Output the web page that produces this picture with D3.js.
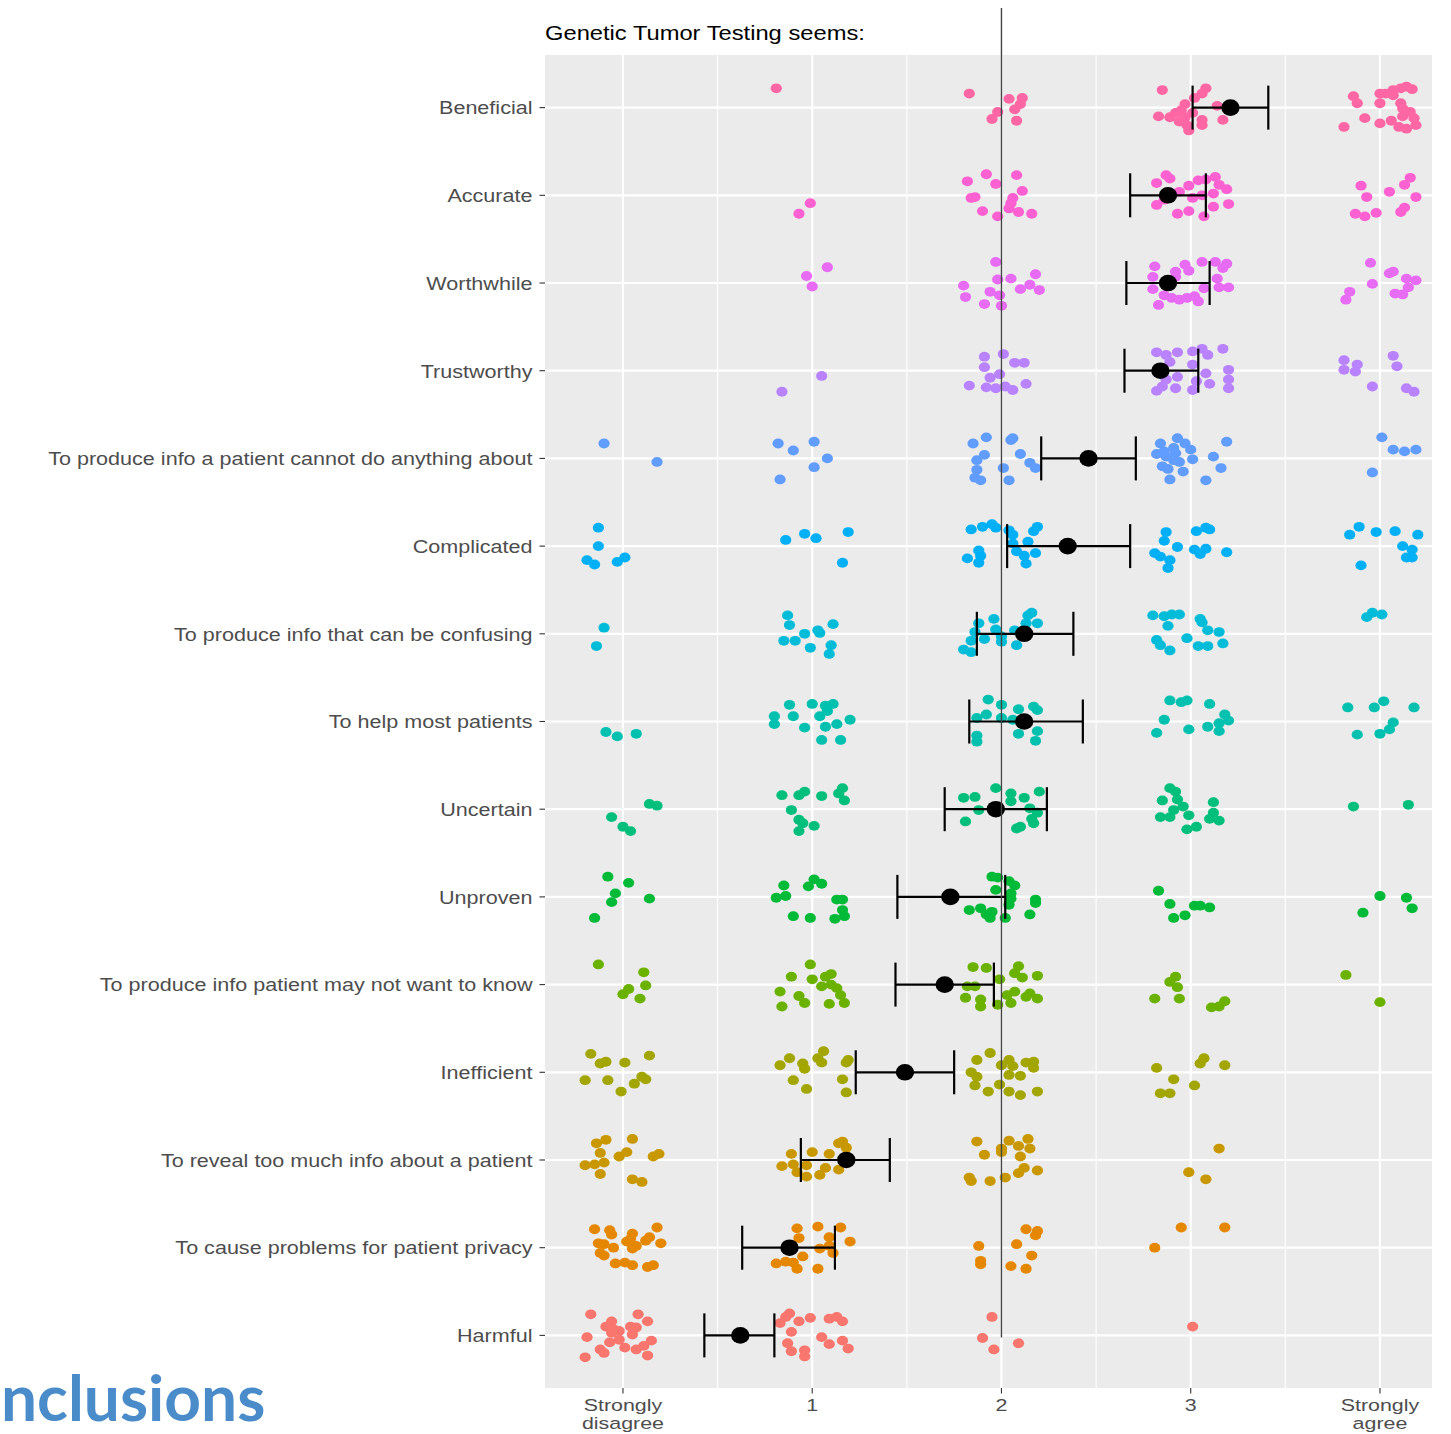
<!DOCTYPE html>
<html><head><meta charset="utf-8">
<script src="https://cdn.jsdelivr.net/npm/d3@7"></script>
<style>body{margin:0;background:#fff;overflow:hidden}svg{display:block}</style>
</head><body><svg id="c" width="1451" height="1434"></svg>
<script>
// ---- data ----
const statements = ["Beneficial","Accurate","Worthwhile","Trustworthy",
 "To produce info a patient cannot do anything about","Complicated",
 "To produce info that can be confusing","To help most patients","Uncertain","Unproven",
 "To produce info patient may not want to know","Inefficient",
 "To reveal too much info about a patient","To cause problems for patient privacy","Harmful"];
const responseLevels = [0,1,2,3,4];
const responseLabels = ["Strongly\ndisagree","1","2","3","Strongly\nagree"];
const colors = ["#FF67A4","#FD61D1","#E76BF3","#B983FF","#619CFF","#00B0F6","#00BCD8","#00C0AF",
 "#00BF7D","#00BA38","#6BB100","#A3A500","#C99800","#E58700","#F8766D"];
const means  = [3.21,2.88,2.88,2.84,2.46,2.35,2.12,2.12,1.97,1.73,1.70,1.49,1.18,0.88,0.62];
const lowers = [3.01,2.68,2.66,2.65,2.21,2.03,1.87,1.83,1.70,1.45,1.44,1.23,0.94,0.63,0.43];
const uppers = [3.41,3.08,3.10,3.04,2.71,2.68,2.38,2.43,2.24,2.02,1.96,1.75,1.41,1.12,0.80];
const referenceLine = 2;
const title = "Genetic Tumor Testing seems:";
const slideHeading = "nclusions";   // visible (clipped) part of the slide heading

// responses per statement: index = response level, entries = [x jitter, y jitter]
const beneficial = [[],[[-0.19,-0.22]],
 [[-0.17,-0.16],[0.04,-0.10],[0.11,-0.11],[0.10,-0.04],[0.07,0.02],[-0.02,0.05],[-0.05,0.13],[0.08,0.15]],
 [[-0.15,-0.20],[0.08,-0.22],[0.06,-0.16],[0.02,-0.11],[-0.03,-0.04],[-0.05,0.03],[-0.08,0.06],[-0.17,0.10],[-0.11,0.11],[-0.03,0.11],[-0.06,0.16],[-0.02,0.20],[-0.01,0.26],[0.06,0.14],[0.06,0.20],[0.14,-0.02],[0.17,0.14],[0.01,0.06]],
 [[-0.14,-0.13],[-0.12,-0.05],[-0.19,0.22],[-0.08,0.12],[0,-0.16],[0.03,-0.16],[0,-0.05],[0.07,-0.20],[0.11,-0.22],[0.14,-0.24],[0.17,-0.21],[0.07,-0.14],[0.11,-0.05],[0.12,0.01],[0.16,0.05],[0.18,0.12],[0.19,0.20],[0.14,0.24],[0.10,0.22],[0.06,0.15],[0,0.18],[0.12,0.10]]];
const accurate = [[],[[-0.01,0.09],[-0.07,0.21]],
 [[-0.18,-0.16],[-0.08,-0.24],[0.08,-0.23],[-0.03,-0.13],[0.11,-0.05],[-0.16,0.03],[-0.14,0.02],[0.06,0.03],[0.05,0.09],[-0.10,0.18],[-0.02,0.24],[0.09,0.19],[0.16,0.21],[0.04,0.15]],
 [[-0.18,-0.14],[-0.13,-0.23],[-0.11,-0.19],[-0.01,-0.11],[0.04,-0.17],[0.08,-0.18],[0.13,-0.21],[0.15,-0.12],[0.19,-0.07],[0.12,-0.02],[0.01,0.03],[0.06,0],[-0.18,0.11],[-0.07,0.21],[-0.01,0.18],[0.07,0.24],[0.12,0.13],[0.20,0.10],[-0.14,0.05],[-0.06,-0.04]],
 [[-0.10,-0.11],[-0.07,0.02],[-0.13,0.21],[-0.08,0.24],[-0.02,0.20],[0.05,-0.04],[0.13,-0.12],[0.16,-0.20],[0.19,0.02],[0.11,0.19],[0.13,0.14]]];
const worthwhile = [[],[[0.08,-0.18],[-0.03,-0.08],[0,0.04]],
 [[-0.20,0.03],[-0.19,0.16],[-0.03,-0.24],[-0.02,-0.04],[0.05,-0.05],[0.18,-0.10],[0.15,0.02],[0.20,0.08],[0.10,0.07],[-0.06,0.10],[-0.01,0.14],[-0.09,0.24],[0,0.26]],
 [[-0.19,-0.19],[-0.08,-0.13],[-0.03,-0.21],[-0.01,-0.14],[0.06,-0.24],[0.13,-0.24],[0.19,-0.22],[0.17,-0.17],[-0.20,-0.07],[0.14,-0.05],[0.15,0.05],[0.20,0.05],[0.07,0.06],[-0.20,0.07],[-0.14,0.14],[-0.10,0.17],[-0.06,0.19],[-0.02,0.17],[0.02,0.15],[0.04,0.21],[-0.17,0.25],[-0.08,-0.07]],
 [[-0.05,-0.23],[0.05,-0.11],[0.07,-0.13],[-0.04,0.01],[-0.16,0.10],[-0.18,0.19],[0.14,-0.05],[0.19,-0.03],[0.15,0.05],[0.08,0.12],[0.12,0.13]]];
const trustworthy = [[],[[0.05,0.06],[-0.16,0.24]],
 [[-0.17,0.17],[-0.09,-0.16],[-0.09,-0.04],[-0.06,0.08],[-0.08,0.19],[0.01,-0.19],[0.07,-0.09],[0.12,-0.09],[-0.01,0.04],[-0.03,0.20],[0.02,0.18],[0.06,0.22],[0.13,0.15]],
 [[-0.18,-0.21],[-0.13,-0.18],[-0.07,-0.21],[0.01,-0.22],[0.06,-0.25],[0.09,-0.18],[0.17,-0.25],[-0.11,-0.10],[0.01,-0.07],[0.20,-0.01],[0.08,0.03],[-0.07,0.07],[-0.13,0.10],[0.03,0.12],[0.10,0.15],[0.20,0.10],[0.20,0.20],[-0.18,0.23],[-0.08,0.20],[0.01,0.22],[-0.15,0.18]],
 [[-0.19,-0.12],[-0.12,-0.07],[-0.19,-0.01],[-0.13,0.01],[0.07,-0.17],[0.09,-0.05],[-0.04,0.18],[0.14,0.20],[0.18,0.24]]];
const cannotDo = [[[-0.10,-0.17],[0.18,0.04]],
 [[-0.18,-0.17],[-0.10,-0.09],[0.01,-0.19],[0.08,0],[0.01,0.10],[-0.17,0.24]],
 [[-0.15,-0.17],[-0.08,-0.24],[-0.13,0.02],[-0.09,-0.04],[-0.13,0.13],[-0.14,0.22],[-0.11,0.25],[0.05,-0.21],[0.06,-0.23],[0.10,-0.05],[0.15,0.05],[0.18,0.11],[0.01,0.11],[0.04,0.25]],
 [[-0.16,-0.17],[-0.07,-0.23],[-0.03,-0.17],[-0.09,-0.12],[-0.18,-0.05],[-0.13,-0.02],[-0.08,-0.06],[-0.06,0.04],[0,-0.10],[0.01,0.01],[0.12,-0.02],[0.19,-0.19],[0.16,0.11],[-0.15,0.09],[-0.12,0.12],[-0.04,0.15],[-0.11,0.24],[0.08,0.25],[-0.09,0.02],[-0.14,-0.08]],
 [[0.01,-0.24],[0.07,-0.10],[0.13,-0.08],[0.19,-0.10],[-0.04,0.16]]];
const complicated = [[[-0.13,-0.21],[-0.13,0],[-0.19,0.16],[-0.15,0.21],[-0.03,0.18],[0.01,0.13]],
 [[-0.14,-0.07],[-0.04,-0.14],[0.02,-0.09],[0.19,-0.16],[0.16,0.19]],
 [[-0.16,-0.19],[-0.10,-0.22],[-0.05,-0.25],[-0.03,-0.21],[0.04,-0.18],[0.06,-0.13],[0.17,-0.17],[0.19,-0.22],[0.14,-0.05],[0.06,-0.03],[0.08,0.06],[0.12,0.11],[0.18,0.08],[0.13,0.20],[-0.12,0.05],[-0.11,0.11],[-0.18,0.14],[-0.12,0.19]],
 [[-0.13,-0.16],[-0.14,-0.06],[0.03,-0.17],[0.08,-0.21],[0.10,-0.19],[-0.07,0.01],[0.02,0.04],[0.08,0.03],[0.19,0.07],[-0.19,0.08],[-0.16,0.12],[-0.11,0.16],[-0.12,0.25],[0.05,0.09]],
 [[-0.16,-0.13],[-0.11,-0.22],[-0.02,-0.16],[0.08,-0.17],[0.20,-0.13],[0.12,0],[0.17,0.04],[0.14,0.13],[0.17,0.13],[-0.10,0.22]]];
const confusing = [[[-0.10,-0.07],[-0.14,0.14]],
 [[-0.13,-0.21],[-0.12,-0.10],[-0.04,0],[0.03,-0.04],[0.04,-0.01],[0.11,-0.11],[-0.15,0.08],[-0.09,0.08],[-0.01,0.16],[0.10,0.13],[0.09,0.23]],
 [[-0.12,-0.12],[-0.14,-0.02],[-0.16,0.08],[-0.20,0.18],[-0.16,0.21],[-0.09,0.06],[-0.04,-0.17],[0.16,-0.24],[0.14,-0.21],[0.19,-0.12],[0.13,-0.12],[0.07,-0.04],[-0.03,-0.05],[0,0.03],[0,0.09],[0.08,0.13]],
 [[-0.20,-0.21],[-0.14,-0.20],[-0.10,-0.22],[-0.06,-0.22],[-0.12,-0.09],[0.05,-0.17],[0.06,-0.13],[0.09,-0.04],[0.15,-0.02],[-0.02,0.05],[-0.18,0.07],[-0.16,0.13],[-0.11,0.19],[0.04,0.14],[0.09,0.14],[0.17,0.11]],
 [[-0.07,-0.19],[-0.04,-0.24],[0.01,-0.22]]];
const helpMost = [[[-0.09,0.12],[-0.03,0.17],[0.07,0.14]],
 [[-0.12,-0.19],[0,-0.20],[0.07,-0.18],[0.11,-0.20],[0.08,-0.12],[-0.20,-0.06],[-0.20,0.03],[-0.10,-0.06],[0.04,-0.06],[0.20,-0.02],[0.13,0.03],[-0.04,0.07],[0.07,0.06],[0.05,0.21],[0.15,0.21]],
 [[-0.07,-0.25],[-0.13,-0.04],[-0.08,-0.08],[-0.13,0.16],[-0.13,0.23],[0,-0.19],[0.09,-0.14],[0.17,-0.17],[0.19,-0.13],[0,-0.04],[0.06,-0.02],[0.09,0.14],[0.19,0.11],[0.18,0.22]],
 [[-0.11,-0.24],[-0.05,-0.22],[-0.02,-0.24],[0.10,-0.20],[-0.14,-0.02],[-0.01,0.09],[-0.18,0.13],[0.09,0.06],[0.18,-0.08],[0.20,-0.01],[0.15,0.02],[0.15,0.11]],
 [[-0.17,-0.16],[-0.03,-0.16],[0.02,-0.23],[0.18,-0.16],[0.07,0.01],[0.05,0.09],[0,0.14],[-0.12,0.15]]];
const uncertain = [[[0.14,-0.06],[0.18,-0.04],[-0.06,0.09],[0,0.20],[0.04,0.25]],
 [[-0.16,-0.16],[-0.07,-0.16],[-0.04,-0.20],[0.05,-0.15],[0.16,-0.24],[0.14,-0.18],[0.17,-0.10],[-0.11,0.01],[-0.07,0.12],[-0.05,0.16],[0.01,0.19],[-0.07,0.25]],
 [[-0.20,-0.13],[-0.14,-0.14],[-0.12,0.01],[-0.19,0.14],[-0.03,-0.24],[0.05,-0.18],[0.12,-0.13],[0.20,-0.20],[0.05,-0.09],[0.15,-0.01],[0.19,0.04],[0.16,0.11],[0.17,0.16],[0.08,0.22],[0.10,0.20]],
 [[-0.11,-0.24],[-0.08,-0.20],[-0.15,-0.10],[-0.07,-0.11],[-0.04,-0.03],[-0.09,0.01],[-0.16,0.09],[-0.11,0.09],[-0.01,0.07],[0.12,-0.08],[0.12,0.04],[0.10,0.11],[0.15,0.13],[-0.02,0.23],[0.03,0.20]],
 [[-0.14,-0.03],[0.15,-0.05]]];
const unproven = [[[-0.08,-0.23],[0.03,-0.16],[-0.04,-0.04],[0.14,0.02],[-0.06,0.06],[-0.15,0.24]],
 [[-0.15,-0.13],[0.01,-0.20],[0.05,-0.15],[-0.02,-0.12],[-0.19,0.01],[-0.14,-0.01],[0.13,0.03],[0.16,0.03],[0.16,0.15],[0.17,0.22],[0.12,0.25],[-0.10,0.22],[-0.01,0.24]],
 [[-0.17,0.15],[-0.11,0.13],[-0.08,0.20],[-0.05,-0.23],[-0.02,-0.22],[0.04,-0.18],[0.07,-0.13],[-0.03,-0.08],[0.05,-0.04],[0.05,0.02],[0.18,0.03],[0.18,0.07],[0.15,0.20],[-0.05,0.17],[-0.06,0.24],[0.02,0.24],[0.04,0.09]],
 [[-0.17,-0.07],[-0.11,0.08],[-0.09,0.24],[-0.03,0.21],[0.02,0.10],[0.05,0.10],[0.10,0.12]],
 [[-0.09,0.18],[0,-0.01],[0.14,0.01],[0.17,0.13]]];
const mayNotWant = [[[-0.13,-0.23],[0.11,-0.14],[0.12,0.01],[0.03,0.05],[0,0.11],[0.09,0.16]],
 [[-0.01,-0.23],[-0.11,-0.09],[0,-0.06],[0.07,-0.09],[0.10,-0.12],[0.05,0.02],[0.10,0],[0.13,0.04],[-0.17,0.08],[-0.07,0.13],[-0.04,0.21],[-0.16,0.25],[0.09,0.22],[0.17,0.21],[0.15,0.12]],
 [[-0.15,-0.20],[-0.08,-0.19],[-0.18,0.02],[-0.14,0.02],[-0.19,0.15],[-0.11,0.17],[-0.11,0.25],[0.09,-0.21],[0.07,-0.13],[0.11,-0.08],[0.19,-0.10],[-0.01,-0.06],[0.07,0.08],[0.15,0.10],[0.13,0.14],[0.19,0.16],[0.03,0.12],[0.05,0.21],[-0.02,0.23]],
 [[-0.08,-0.09],[-0.11,-0.03],[-0.07,0.03],[-0.19,0.16],[-0.06,0.16],[0.11,0.26],[0.15,0.25],[0.18,0.19]],
 [[-0.18,-0.11],[0,0.20]]];
const inefficient = [[[-0.17,-0.21],[0.14,-0.19],[-0.12,-0.10],[-0.09,-0.12],[0.01,-0.11],[-0.20,0.09],[-0.08,0.09],[0.06,0.13],[0.10,0.05],[0.12,0.08],[-0.01,0.22]],
 [[0.06,-0.24],[-0.12,-0.16],[-0.17,-0.08],[-0.05,-0.10],[-0.04,-0.04],[0.03,-0.16],[0.05,-0.11],[0.19,-0.14],[0.18,-0.11],[-0.10,0.09],[0.16,0.08],[-0.03,0.19],[0.18,0.23]],
 [[-0.13,-0.14],[-0.06,-0.22],[-0.16,0],[-0.13,0.05],[-0.14,0.15],[-0.07,0.22],[0.04,-0.14],[0,-0.08],[0.06,-0.07],[0.13,-0.11],[0.17,-0.12],[0.17,-0.05],[0.04,0.03],[0.10,0.04],[-0.01,0.14],[0.04,0.22],[0.10,0.26],[0.19,0.22]],
 [[-0.18,-0.05],[-0.09,0.08],[-0.16,0.24],[-0.11,0.24],[0.02,0.15],[0.05,-0.10],[0.07,-0.16],[0.18,-0.08]],
 []];
const reveal = [[[-0.14,-0.19],[-0.09,-0.23],[0.05,-0.24],[-0.12,-0.08],[-0.02,-0.04],[0.02,-0.09],[-0.20,0.06],[-0.15,0.05],[-0.10,0.03],[-0.12,0.16],[0.16,-0.04],[0.19,-0.07],[0.05,0.22],[0.10,0.25]],
 [[-0.11,-0.07],[0,-0.09],[0.09,-0.07],[0.14,-0.19],[0.16,-0.21],[0.18,-0.14],[-0.16,0.07],[-0.10,0.05],[-0.03,0.06],[0.07,0.09],[-0.08,0.14],[-0.03,0.19],[0.04,0.17],[0.14,0.11]],
 [[-0.13,-0.21],[-0.09,-0.06],[-0.17,0.20],[-0.16,0.24],[0.04,-0.22],[0.14,-0.24],[0.09,-0.16],[0.15,-0.13],[0,-0.13],[0,-0.09],[0.10,-0.04],[0.12,0.09],[0.09,0.15],[0.19,0.12],[-0.06,0.24],[0.02,0.20]],
 [[0.15,-0.13],[-0.01,0.14],[0.08,0.22]],
 []];
const privacy = [[[-0.15,-0.21],[-0.07,-0.20],[-0.06,-0.15],[0.18,-0.23],[0.05,-0.16],[0.04,-0.10],[0.12,-0.08],[0.14,-0.12],[-0.13,-0.05],[-0.10,-0.04],[-0.05,0],[0.05,0.01],[0.07,-0.02],[0.20,-0.05],[-0.12,0.06],[-0.10,0.09],[-0.04,0.18],[0.01,0.17],[0.05,0.20],[0.13,0.22],[0.16,0.20],[0.02,-0.07]],
 [[-0.08,-0.22],[0.03,-0.24],[0.15,-0.23],[-0.07,-0.11],[0.09,-0.12],[0.20,-0.07],[0.04,0.01],[0.11,0.06],[-0.19,0.18],[-0.14,0.16],[-0.10,0.17],[-0.05,0.10],[-0.08,0.24],[0.03,0.24],[0.09,-0.02]],
 [[-0.12,-0.02],[-0.11,0.15],[-0.11,0.19],[0.13,-0.21],[0.19,-0.19],[0.18,-0.14],[0.08,-0.04],[0.16,0.09],[0.05,0.21],[0.13,0.24]],
 [[-0.05,-0.23],[0.18,-0.23],[-0.19,0]],
 []];
const harmful = [[[-0.17,-0.24],[0.08,-0.24],[-0.06,-0.16],[-0.09,-0.10],[0.04,-0.10],[0.07,-0.09],[0.13,-0.16],[-0.02,-0.05],[-0.06,-0.03],[-0.19,0.02],[0.05,-0.01],[0.15,0.06],[-0.02,0.05],[-0.07,0.08],[-0.12,0.16],[-0.10,0.20],[0.01,0.14],[0.07,0.16],[0.11,0.12],[-0.20,0.25],[0.13,0.23],[-0.05,-0.07]],
 [[-0.12,-0.25],[-0.17,-0.14],[-0.07,-0.16],[-0.01,-0.20],[0.09,-0.19],[0.13,-0.21],[0.16,-0.16],[-0.11,-0.04],[0.05,0.02],[0.09,0.10],[0.16,0.06],[0.19,0.15],[-0.13,0.09],[-0.11,0.18],[-0.04,0.17],[-0.04,0.24],[-0.14,-0.21]],
 [[-0.05,-0.21],[-0.10,0.03],[-0.04,0.16],[0.09,0.09]],
 [[0.01,-0.10]],
 []];
const responses = [beneficial,accurate,worthwhile,trustworthy,cannotDo,complicated,confusing,
 helpMost,uncertain,unproven,mayNotWant,inefficient,reveal,privacy,harmful];

// ---- drawing ----
const W = 1451, H = 1434;
const P = {left:545, right:1432, top:55, bottom:1388};
const SX = 1.13;       // horizontal stretch of the source image
const FONT = "'Liberation Sans', Arial, Helvetica, sans-serif";
const svg = d3.select("#c");
svg.append("rect").attr("width",W).attr("height",H).attr("fill","#fff");

const x = d3.scaleLinear().domain([-0.412, 4.275]).range([P.left, P.right]);
const y = d3.scalePoint().domain(statements).range([P.top, P.bottom]).padding(0.6);
const step = y.step();

// panel
svg.append("rect").attr("x",P.left).attr("y",P.top).attr("width",P.right-P.left)
  .attr("height",P.bottom-P.top).attr("fill","#EBEBEB");
const minor = d3.range(-0.5, 4.6, 1).filter(v=>x(v)>P.left && x(v)<P.right);
svg.append("g").selectAll("line").data(minor).join("line")
  .attr("x1",d=>x(d)).attr("x2",d=>x(d)).attr("y1",P.top).attr("y2",P.bottom)
  .attr("stroke","#fff").attr("stroke-width",1.1);
svg.append("g").selectAll("line").data(statements).join("line")
  .attr("x1",P.left).attr("x2",P.right).attr("y1",d=>y(d)).attr("y2",d=>y(d))
  .attr("stroke","#fff").attr("stroke-width",2.2);
svg.append("g").selectAll("line").data(responseLevels).join("line")
  .attr("x1",d=>x(d)).attr("x2",d=>x(d)).attr("y1",P.top).attr("y2",P.bottom)
  .attr("stroke","#fff").attr("stroke-width",2.2);

// jittered responses
const pts = [];
responses.forEach((lv,i)=>lv.forEach((arr,r)=>arr.forEach(([jx,jy])=>
  pts.push({s:statements[i], c:colors[i], v:r+jx, j:jy}))));
svg.append("g").selectAll("ellipse").data(pts).join("ellipse")
  .attr("cx",d=>x(d.v)).attr("cy",d=>y(d.s)+d.j*step)
  .attr("rx",5.6).attr("ry",4.9).attr("fill",d=>d.c);

// error bars and means
const eb = svg.append("g").attr("stroke","#000").attr("stroke-width",2.2);
statements.forEach((s,i)=>{
  const cy = y(s);
  eb.append("line").attr("x1",x(lowers[i])).attr("x2",x(uppers[i])).attr("y1",cy).attr("y2",cy);
  [lowers[i],uppers[i]].forEach(v=>eb.append("line").attr("x1",x(v)).attr("x2",x(v))
     .attr("y1",cy-22).attr("y2",cy+22));
});
svg.append("g").selectAll("ellipse").data(means).join("ellipse")
  .attr("cx",d=>x(d)).attr("cy",(d,i)=>y(statements[i])).attr("rx",9.2).attr("ry",8.3).attr("fill","#000");

// reference line
svg.append("line").attr("x1",x(referenceLine)).attr("x2",x(referenceLine))
  .attr("y1",8).attr("y2",y(statements[statements.length-1])+2)
  .attr("stroke","#444").attr("stroke-width",1.4);

// axes ticks
const ax = svg.append("g").attr("stroke","#333").attr("stroke-width",1.1);
statements.forEach(s=>ax.append("line").attr("x1",P.left-5.5).attr("x2",P.left).attr("y1",y(s)).attr("y2",y(s)));
responseLevels.forEach(v=>ax.append("line").attr("x1",x(v)).attr("x2",x(v)).attr("y1",P.bottom).attr("y2",P.bottom+5.5));

function txt(px,py,str,opt){
  return svg.append("text").attr("transform",`translate(${px},${py}) scale(${opt.sx||SX},1)`)
    .attr("font-family",FONT).attr("font-size",opt.size).attr("fill",opt.fill)
    .attr("text-anchor",opt.anchor).text(str);
}
statements.forEach(s=>txt(P.left-12.5, y(s)+6.8, s, {size:19.1, fill:"#4D4D4D", anchor:"end"}));
responseLevels.forEach((v,i)=>{
  responseLabels[i].split("\n").forEach((line,k)=>
    txt(x(v), P.bottom+23+k*17.5, line, {size:17, sx:1.26, fill:"#4D4D4D", anchor:"middle"}));
});
txt(P.left, 39.5, title, {size:21, fill:"#000", anchor:"start"});

// slide heading fragment (clipped in source)
svg.append("text").attr("x",1).attr("y",1421).attr("text-anchor","start")
  .attr("font-family","Lato, 'Open Sans', sans-serif").attr("font-weight",700)
  .attr("font-size",64).attr("fill","#4A8CCA").text(slideHeading);
</script></body></html>
